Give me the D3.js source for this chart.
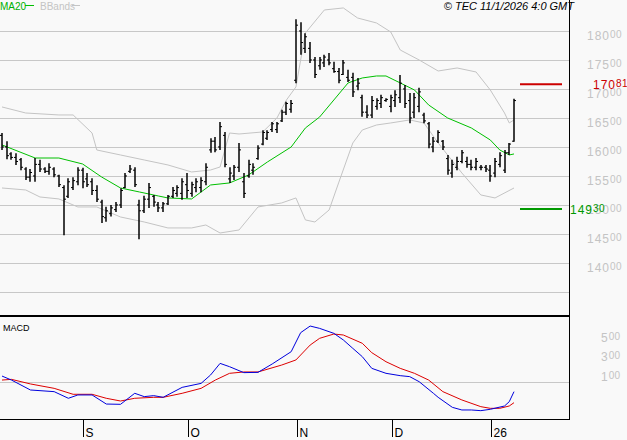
<!DOCTYPE html><html><head><meta charset="utf-8">
<script src="https://cdn.jsdelivr.net/npm/d3@7"></script>
<style>body{margin:0;background:#f9f9f9}svg{display:block}</style></head><body>
<svg id="c" width="627" height="440"></svg>
<script>
const highs=[16240,16100,15910,15890,15810,15650,15620,15810,15780,15650,15720,15650,15520,15340,15460,15480,15650,15640,15550,15460,15340,15090,14970,15000,15050,15290,15550,15690,15650,15090,15160,15380,15170,15050,15050,15170,15310,15340,15460,15550,15400,15460,15480,15720,16150,16170,16430,16260,15650,15690,16070,15550,15780,15720,16030,16290,16290,16430,16430,16640,16780,16810,18200,18150,17960,17810,17550,17550,17590,17620,17470,17360,17500,17330,17280,17190,16900,16720,16880,16840,16900,16840,16900,16980,17240,17070,16930,16930,17020,16590,16430,16170,16290,16120,15860,15780,15830,15950,15830,15780,15810,15690,15690,15690,15810,15910,15950,16070,16830];
const lows=[15950,15790,15780,15690,15600,15430,15400,15400,15570,15550,15520,15480,15310,14480,15120,15260,15340,15290,15310,15170,15050,14690,14710,14800,14880,14950,15290,15550,15310,14410,14860,14950,14970,14880,14880,15000,15120,15140,15090,15120,15140,15220,15220,15340,15900,15910,15950,15650,15380,15430,15570,15120,15470,15520,15780,16030,16120,16260,16240,16430,16550,16590,17100,17590,17620,17450,17190,17330,17380,17410,17280,17100,17240,17120,16860,16980,16520,16500,16500,16640,16670,16780,16600,16690,16760,16670,16410,16500,16600,16410,15980,15910,16070,15950,15520,15470,15600,15720,15640,15600,15600,15600,15570,15400,15480,15650,15550,15860,16090];
const opens=[16200,16000,15880,15820,15780,15620,15480,15500,15700,15620,15580,15620,15500,15300,15150,15300,15400,15600,15450,15400,15250,15050,14780,14850,14920,15000,15300,15580,15600,15000,14900,15100,15150,15000,14950,15020,15150,15200,15200,15350,15200,15300,15300,15400,15950,16100,16000,16200,15450,15500,15650,15400,15500,15600,15800,16050,16150,16300,16300,16450,16600,16650,17150,18000,17700,17700,17500,17400,17450,17500,17350,17300,17250,17200,17200,17050,16850,16600,16550,16700,16750,16800,16700,16800,16850,17000,16800,16600,16700,16550,16400,16000,16100,16100,15800,15550,15650,15750,15750,15700,15650,15650,15650,15600,15550,15700,15600,15900,16100];
const closes=[16000,15850,15820,15750,15650,15480,15560,15700,15620,15580,15650,15520,15350,15100,15400,15420,15600,15400,15350,15250,15100,14800,14900,14950,15000,15250,15500,15620,15350,14900,15100,15300,15050,14950,15020,15150,15250,15300,15400,15250,15350,15400,15420,15650,16100,15950,16350,15700,15550,15650,15950,15200,15700,15650,15980,16250,16250,16400,16400,16600,16750,16750,18100,17800,17900,17500,17250,17500,17550,17450,17300,17150,17450,17150,16950,17100,16600,16550,16800,16800,16850,16820,16850,16900,17100,16750,16500,16850,16950,16450,16050,16100,16250,16000,15600,15700,15750,15900,15700,15650,15750,15650,15620,15500,15750,15850,15900,16050,16800];
const maIdx=[0,7,12,17,21,25,29,33,35,40,44,48,52,56,61,64,67,70,73,76,79,81,84,87,90,94,99,103,105,107,108];
const maVal=[16035,15810,15810,15707,15483,15293,15224,15155,15121,15104,15345,15380,15517,15742,16000,16328,16517,16810,17104,17190,17224,17224,17104,16983,16724,16500,16328,16121,15948,15862,15880];
const upIdx=[0,5,12,15,19,20,25,30,35,40,44,46,48,50,55,58,60,62,64,68,72,75,79,82,84,88,92,96,100,103,106,107,108];
const upVal=[16690,16586,16552,16552,16241,15948,15862,15776,15690,15569,15603,15655,16241,16224,16259,16500,16810,17035,17966,18362,18397,18224,18138,17983,17672,17500,17310,17362,17293,16983,16586,16414,16466];
const loIdx=[0,5,8,12,16,20,25,30,35,40,43,46,50,54,59,62,64,66,69,71,74,76,79,82,86,89,92,97,101,104,108];
const loVal=[15293,15259,15138,15104,14966,14966,14793,14707,14604,14604,14655,14517,14569,14966,15035,15121,14742,14707,14914,15380,16069,16293,16379,16414,16466,16414,16069,15552,15173,15121,15293];
const macdIdx=[0,2,6,11,14,16,19,22,25,28,30,32,34,38,42,44,46,48,51,54,57,61,63,65,67,70,72,74,76,78,81,84,86,88,91,92,95,97,99,101,103,106,107,108];
const macdVal=[61,20,-82,-99,-167,-133,-133,-226,-229,-116,-150,-140,-157,-55,-14,72,191,157,96,99,185,311,506,574,550,499,431,345,260,140,89,65,55,3,-116,-157,-260,-287,-287,-294,-280,-246,-202,-99];
const sigIdx=[0,2,6,11,15,19,22,25,28,32,34,38,42,45,48,51,54,59,62,65,67,70,72,76,78,81,84,87,90,93,97,101,103,105,107,108];
const sigVal=[20,27,-20,-65,-126,-126,-167,-195,-167,-157,-157,-116,-65,20,89,103,103,174,226,379,448,492,482,397,301,208,140,89,20,-99,-184,-253,-270,-270,-246,-212];
const monthIdx=[17.1,39.2,62.2,82.3,103.2];
const monthLab=["S","O","N","D","26"];
const priceGrid=[13500,14000,14500,15000,15500,16000,16500,17000,17500,18000];
const priceLab=[14000,14500,15000,15500,16000,16500,17000,17500,18000];
const macdLab=[100,300,500];
const levelHi=17081, levelLo=14930;

const svg=d3.select("#c");
const W=569;
const x=d3.scaleLinear().domain([0,108]).range([2,514]);
const y=d3.scaleLinear().domain([13086,18534]).range([316,0]);
const ym=d3.scaleLinear().domain([0,200]).range([382,362.5]);
const F="Liberation Sans, Arial, sans-serif";
svg.selectAll(".g").data(priceGrid).join("line").attr("x1",0).attr("x2",W)
 .attr("y1",d=>Math.round(y(d))+.5).attr("y2",d=>Math.round(y(d))+.5).attr("stroke","#c8c8c8");
svg.append("line").attr("x1",0).attr("x2",W).attr("y1",Math.round(ym(0))+.5).attr("y2",Math.round(ym(0))+.5).attr("stroke","#c8c8c8");
function lab(big,small,col,xx,yy){
 const t=svg.append("text").attr("x",xx).attr("y",yy).attr("fill",col).attr("font-family",F).attr("letter-spacing",1);
 t.append("tspan").attr("font-size",12).text(big);
 t.append("tspan").attr("font-size",10).attr("dy",-2).attr("letter-spacing",0.3).text(small);
}
priceLab.forEach(v=>{const s=String(v);lab(s.slice(0,3),s.slice(3),"#c4c4c4",587,y(v)+9);});
macdLab.forEach(v=>{const s=String(v);lab(s.slice(0,1),s.slice(1),"#c4c4c4",601,ym(v)+8.5);});
const ln=d3.line().x(d=>x(d[0])).y(d=>y(d[1]));
svg.append("path").attr("d",ln(d3.zip(upIdx,upVal))).attr("fill","none").attr("stroke","#c4c4c4");
svg.append("path").attr("d",ln(d3.zip(loIdx,loVal))).attr("fill","none").attr("stroke","#c4c4c4");
svg.append("path").attr("d",ln(d3.zip(maIdx,maVal))).attr("fill","none").attr("stroke","#00c000");
const idx=d3.range(highs.length);
const g=svg.append("g").attr("stroke","#000").attr("stroke-width",1.5);
idx.forEach(i=>{
 const cx=Math.round(x(i));
 g.append("line").attr("x1",cx).attr("x2",cx).attr("y1",y(highs[i])).attr("y2",y(lows[i]));
 g.append("line").attr("x1",cx-2).attr("x2",cx).attr("y1",y(opens[i])).attr("y2",y(opens[i])).attr("stroke-width",1);
 g.append("line").attr("x1",cx).attr("x2",cx+2).attr("y1",y(closes[i])).attr("y2",y(closes[i])).attr("stroke-width",1);
});
svg.append("line").attr("x1",520).attr("x2",562).attr("y1",y(levelHi)).attr("y2",y(levelHi)).attr("stroke","#cc0000").attr("stroke-width",2);
svg.append("line").attr("x1",520).attr("x2",562).attr("y1",y(levelLo)).attr("y2",y(levelLo)).attr("stroke","#009900").attr("stroke-width",2);
lab("170","81","#cc0000",593,y(levelHi)+5);
lab("149","30","#009900",570,y(levelLo)+5);
const lm=d3.line().x(d=>x(d[0])).y(d=>ym(d[1]));
svg.append("path").attr("d",lm(d3.zip(sigIdx,sigVal))).attr("fill","none").attr("stroke","#dd0000");
svg.append("path").attr("d",lm(d3.zip(macdIdx,macdVal))).attr("fill","none").attr("stroke","#0000dd");
svg.append("line").attr("x1",0).attr("x2",W+1).attr("y1",316).attr("y2",316).attr("stroke","#000").attr("stroke-width",2);
svg.append("line").attr("x1",W+.5).attr("x2",W+.5).attr("y1",0).attr("y2",420).attr("stroke","#000");
svg.append("line").attr("x1",0).attr("x2",W+1).attr("y1",419.5).attr("y2",419.5).attr("stroke","#000");
monthIdx.forEach((m,i)=>{const mx=Math.round(x(m))+.5;
 svg.append("line").attr("x1",mx).attr("x2",mx).attr("y1",420).attr("y2",437).attr("stroke","#000");
 svg.append("text").attr("x",mx+2).attr("y",437).attr("font-family",F).attr("font-size",12).text(monthLab[i]);});
svg.append("text").attr("x",0).attr("y",10).attr("font-family",F).attr("font-size",10).attr("fill","#00b000").text("MA20");
svg.append("line").attr("x1",25).attr("x2",34).attr("y1",5.5).attr("y2",5.5).attr("stroke","#00c000");
svg.append("text").attr("x",40).attr("y",10).attr("font-family",F).attr("font-size",10).attr("fill","#c4c4c4").text("BBands");
svg.append("line").attr("x1",72).attr("x2",80).attr("y1",5.5).attr("y2",5.5).attr("stroke","#c4c4c4");
svg.append("text").attr("x",574).attr("y",10).attr("text-anchor","end").attr("font-family",F).attr("font-style","italic").attr("font-size",11).text("© TEC 11/1/2026 4:0 GMT");
svg.append("text").attr("x",3).attr("y",331).attr("font-family",F).attr("font-size",9).text("MACD");
</script></body></html>
